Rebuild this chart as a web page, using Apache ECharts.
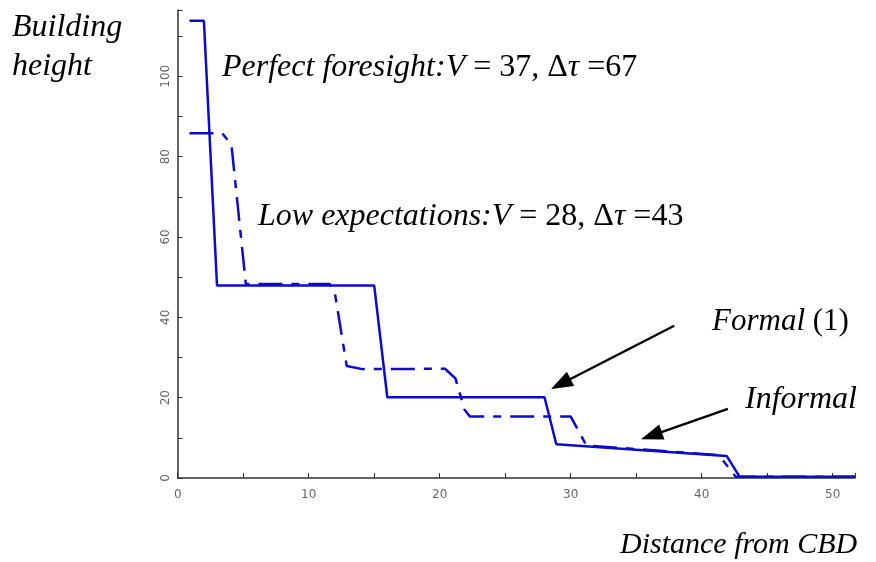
<!DOCTYPE html>
<html>
<head>
<meta charset="utf-8">
<script src="https://cdn.jsdelivr.net/npm/echarts@6/dist/echarts.min.js"></script>
<style>
  html, body { margin: 0; padding: 0; background: #fff; }
  #chart { width: 876px; height: 562px; }
</style>
</head>
<body>
<div id="chart"></div>
<script>
// perfect foresight (solid)
var formalLine = [
  [0.9, 113.8], [2.0, 113.8], [3.0, 47.9], [15.0, 47.9], [16.0, 20.1],
  [28.0, 20.1], [28.9, 8.4], [41.9, 5.5], [42.9, 0.3], [51.7, 0.3]
];
// low expectations (dashed)
var lowExpLine = [
  [0.9, 85.8], [3.4, 85.8], [4.1, 83.0], [5.2, 48.3], [11.6, 48.3],
  [12.0, 46.0], [12.9, 27.9], [14.1, 27.1], [20.4, 27.2], [21.2, 24.8],
  [21.9, 17.0], [22.3, 15.3], [30.0, 15.3], [31.2, 8.1], [41.3, 5.7],
  [42.6, 0.3], [51.7, 0.3]
];
// arrows: [tail, head]
var arrowFormal = [[37.9, 37.9], [29.24, 23.4]];
var arrowInformal = [[42.0, 17.2], [36.16, 10.56]];

var xMax = 51.7, yMax = 116.5;
var blue = '#0a0ad0';
var serif = '"Liberation Serif", "Times New Roman", serif';

var myChart = echarts.init(document.getElementById('chart'));

// 文字标注
function label(txt, left, top, size) {
  return {
    type: 'text', left: left, top: top, silent: true,
    style: {
      text: txt,
      font: size + 'px ' + serif,
      fill: '#000',
      rich: {
        i: { fontStyle: 'italic', fontSize: size, fontFamily: serif },
        n: { fontStyle: 'normal', fontSize: size, fontFamily: serif }
      }
    }
  };
}

var option = {
  animation: false,
  grid: { left: 177.7, right: 21, top: 10, bottom: 84 },
  xAxis: {
    type: 'value', min: 0, max: xMax, interval: 10,
    splitLine: { show: false },
    axisLine: { lineStyle: { color: '#333', width: 1.5 } },
    axisTick: { inside: true, length: 5, lineStyle: { color: '#333' } },
    minorTick: { show: true, splitNumber: 2, length: 5, lineStyle: { color: '#333' } },
    axisLabel: {
      color: '#666', fontSize: 12, fontFamily: 'DejaVu Sans', margin: 11,
      showMaxLabel: false
    }
  },
  yAxis: {
    type: 'value', min: 0, max: yMax, interval: 20,
    splitLine: { show: false },
    axisLine: { show: true, lineStyle: { color: '#333', width: 1.5 } },
    axisTick: { show: true, inside: true, length: 5, lineStyle: { color: '#333' } },
    minorTick: { show: true, splitNumber: 2, length: 5, lineStyle: { color: '#333' } },
    axisLabel: {
      color: '#666', fontSize: 12, fontFamily: 'DejaVu Sans', margin: 6,
      rotate: 90, showMaxLabel: false
    }
  },
  series: [
    {
      type: 'line', data: formalLine, showSymbol: false, z: 3,
      lineStyle: { color: blue, width: 2.5 }
    },
    {
      type: 'line', data: lowExpLine, showSymbol: false, z: 2,
      lineStyle: { color: blue, width: 2.5, type: [24, 9, 8, 9] },
      markLine: {
        silent: true, animation: false,
        symbol: ['none', 'triangle'], symbolSize: [16, 22],
        label: { show: false },
        lineStyle: { color: '#000', width: 2.5, type: 'solid' },
        data: [
          [{ coord: arrowFormal[0] }, { coord: arrowFormal[1] }],
          [{ coord: arrowInformal[0] }, { coord: arrowInformal[1] }]
        ]
      }
    }
  ],
  graphic: [
    label('{i|Building}', 12, 12, 32),
    label('{i|height}', 12, 51, 32),
    label('{i|Perfect foresight:V}{n| = 37, Δ}{i|τ}{n| =67}', 222, 52, 32),
    label('{i|Low expectations:V}{n| = 28, Δ}{i|τ}{n| =43}', 258, 201, 32),
    label('{i|Formal}{n| (1)}', 712, 306, 31),
    label('{i|Informal}', 745, 384, 32),
    label('{i|Distance from CBD}', 620, 530, 30)
  ]
};

myChart.setOption(option);
</script>
</body>
</html>
